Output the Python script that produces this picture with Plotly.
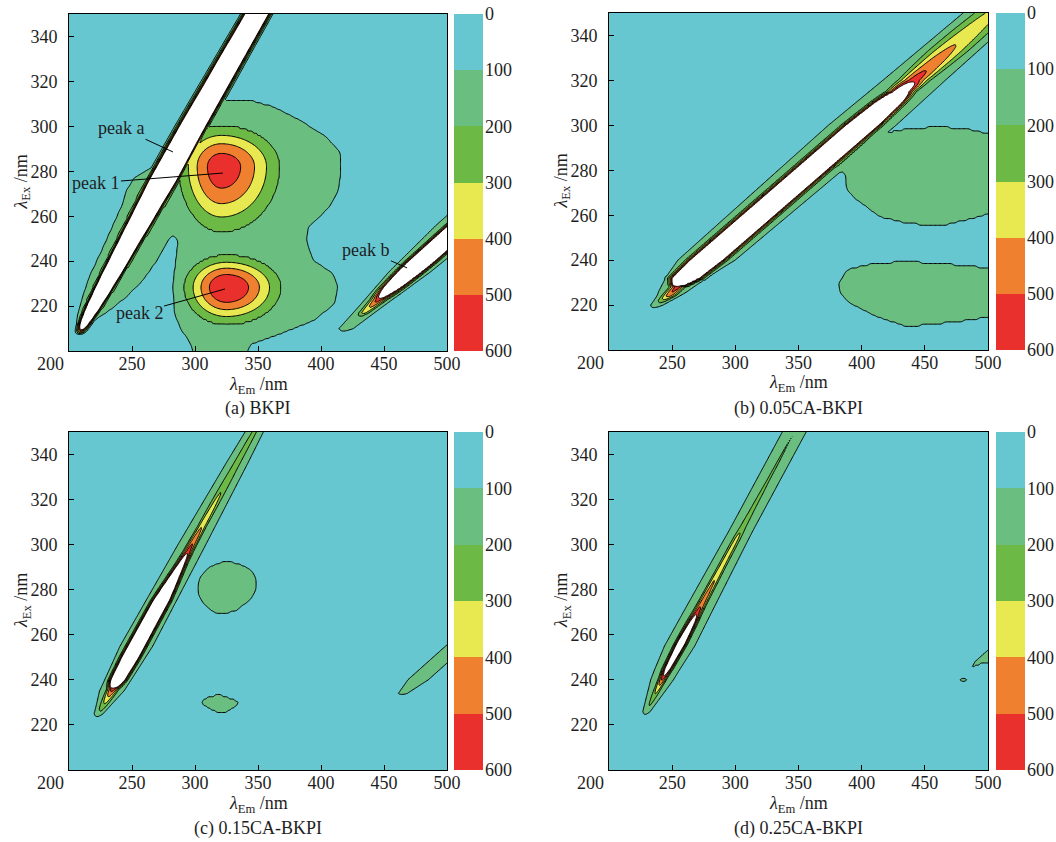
import numpy as np
import plotly.graph_objects as go

# ------------------------------------------------------------------ text / ticks
EM_TICKS = [250, 300, 350, 400, 450, 500]
EX_TICKS = [220, 240, 260, 280, 300, 320, 340]
CORNER_LABEL = "200"
CBAR_TICKS = [0, 100, 200, 300, 400, 500, 600]
BAND_COLORS = ["#67c7d1", "#6abe80", "#6cb945", "#e8e850", "#ef8030", "#e9302c"]
ABOVE_COLOR = "#ffffff"
CAPTIONS = ["(a) BKPI", "(b) 0.05CA-BKPI", "(c) 0.15CA-BKPI", "(d) 0.25CA-BKPI"]

PEAK_LABELS = ["peak a", "peak 1", "peak 2", "peak b"]
PEAK_LABEL_EM = [241.3, 221.4, 255.6, 435.7]
PEAK_LABEL_EX = [299.3, 274.8, 216.9, 245.0]
PEAK_POINT_EM = [282.5, 322.2, 323.8, 468.3]
PEAK_POINT_EX = [288.6, 279.2, 227.6, 237.0]

# ------------------------------------------------------------------ (a) BKPI
A_SC1_CL_EX = [206, 213, 250, 276, 300, 350]
A_SC1_CL_EM = [207, 213, 249, 274.5, 298, 349]
A_SC1_EX = [207, 213, 220, 232, 276, 350]
A_SC1_AMP = [0, 1500, 3000, 5000, 5000, 5000]
A_SC1_SIG = [2.5, 2.8, 3.2, 3.6, 5.3, 4.6]

A_SC2_CL_EX = [205, 350]
A_SC2_CL_EM = [410, 700]
A_SC2_EX = [213, 217, 220, 223, 226, 232, 240, 350]
A_SC2_AMP = [0, 330, 430, 560, 900, 2000, 4000, 4000]
A_SC2_SIG = [3, 4, 4.5, 5, 5.5, 5.5, 5.5, 6.5]
A_SC2_SKIRT_EX = [206, 210, 220, 235, 256, 350]
A_SC2_SKIRT_AMP = [0, 140, 160, 170, 170, 170]
A_SC2_SKIRT_SIG = [3, 7, 10, 16, 20, 20]

A_PEAK_EM = [321, 325]
A_PEAK_EX = [282, 228.3]
A_PEAK_AMP = [560, 600]
A_PEAK_SIG_L = [23.5, 22.5]
A_PEAK_SIG_R = [32, 29]
A_PEAK_SIG_D = [20, 11]
A_PEAK_SIG_U = [12.5, 9.5]

A_BG_EM = [311, 325, 345, 362, 383, 404, 416, 416, 414, 408, 398, 390, 388.3, 393.6, 409.4,
           413.4, 411, 395, 365, 345, 338, 300, 296, 289, 283.5, 283, 285.3, 286.6, 283,
           278.7, 272, 259, 245.7, 233, 224.6, 216, 230, 250, 275, 298]
A_BG_EX = [311, 311.5, 311.4, 308.7, 302.8, 295.4, 288, 280, 272, 265, 259, 255, 249.4, 240.5,
           234.6, 228.6, 221.2, 213.8, 207, 203, 197, 197, 204, 209.4, 216.8, 231.6, 243.5,
           249.4, 251.5, 249.4, 242, 231.6, 224.2, 218.5, 215.3, 212, 230, 251, 276, 299]
A_FRINGE_EM = [282, 264, 252, 246, 243, 235, 227, 215, 207, 205, 214, 245, 266, 282]
A_FRINGE_EX = [283, 281, 277, 272, 266, 256, 246, 231.6, 216.8, 211, 212, 245, 267, 282]

# ------------------------------------------------------------------ (b) 0.05CA-BKPI
B_SC_CL_EX = [216, 224.5, 232.6, 350]
B_SC_CL_EM = [229, 248, 262, 503]
B_SC_EX = [217, 221, 224.5, 228, 232, 240, 300, 310, 315, 320, 326, 333, 342, 350]
B_SC_AMP = [0, 200, 470, 560, 2500, 3000, 3000, 2000, 900, 560, 480, 420, 360, 320]
B_SC_SIG = [3, 4, 4.5, 4.5, 6.5, 7.3, 7.3, 7, 7, 9, 11, 13, 14, 14]
B_SC_SKIRT_EX = [216, 220, 226, 240, 300, 320, 350]
B_SC_SKIRT_AMP = [0, 140, 170, 170, 170, 170, 170]
B_SC_SKIRT_SIG = [4, 6, 11, 22, 26, 24, 22]

B_BLOB1_EM = [360, 382.9, 386.9, 388.2, 396.1, 414.6, 435.7, 462, 488.4, 502, 502, 488.4,
              462, 435.7, 412, 388]
B_BLOB1_EX = [280, 279.7, 278.7, 271.2, 266.8, 259.3, 256.4, 255.2, 258.6, 261, 296, 297.9,
              299.4, 298.4, 295.3, 294]
B_BLOB2_EM = [381.6, 388, 409.3, 435.7, 462, 502, 502, 475.3, 435.7, 412, 390.8, 382.9]
B_BLOB2_EX = [229.7, 235.6, 238.6, 239.3, 238.6, 236.4, 214.8, 212.6, 210.4, 214.8, 220.8, 225.3]

# ------------------------------------------------------------------ (c) 0.15CA-BKPI
C_SC_CL_EX = [222, 236.6, 300, 350]
C_SC_CL_EM = [220.5, 235.5, 297.5, 347]
C_SC_EX = [222, 226, 232, 236, 240, 250, 275, 285, 292, 297, 302, 308, 318, 333, 350]
C_SC_AMP = [0, 200, 380, 560, 1800, 2500, 2200, 1200, 800, 560, 480, 400, 330, 250, 220]
C_SC_SIG = [2, 3, 3.5, 3.5, 3.8, 4, 4, 3.5, 3, 3, 3, 3, 3.5, 4, 4]
C_SC_SKIRT_EX = [221, 225, 235, 255, 300, 336, 350]
C_SC_SKIRT_AMP = [0, 150, 160, 160, 160, 160, 160]
C_SC_SKIRT_SIG = [2, 4, 10, 13.4, 11.4, 8.9, 7.5]

C_SC2_CL_EX = [230, 350]
C_SC2_CL_EM = [457, 697]
C_SC2_EX = [231, 234, 240, 350]
C_SC2_AMP = [0, 120, 150, 150]
C_SC2_SIG = [3, 6, 9, 9]

C_BLOB1_EM = [303.8, 311.7, 322.3, 332.9, 343.4, 348.7, 348.2, 343.4, 332.9, 322.3, 314.3,
              306.4, 302.5, 302.5]
C_BLOB1_EX = [285.7, 290.1, 292.4, 291.9, 289.4, 285, 279.8, 275.3, 270.9, 269.1, 270.1,
              273.9, 277.6, 282.8]
C_BLOB2_EM = [303.8, 311.8, 319.7, 327.6, 335.5, 327.6, 319.7, 311.7]
C_BLOB2_EX = [230.1, 232.6, 233.4, 231.8, 230.1, 226.4, 225, 227.2]

# ------------------------------------------------------------------ (d) 0.25CA-BKPI
D_SC_CL_EX = [224, 244, 270, 300, 350]
D_SC_CL_EM = [228, 245.5, 270, 298.5, 346.6]
D_SC_EX = [223, 226, 232, 237, 241, 245, 256, 266, 270, 274, 280, 290, 303, 308, 315, 328, 350]
D_SC_AMP = [0, 160, 260, 380, 560, 800, 1100, 750, 560, 480, 430, 370, 330, 270, 240, 215, 200]
D_SC_SIG = [1.5, 2, 2.5, 2.5, 2.5, 2.8, 3, 3, 3, 3, 3, 3, 3, 3, 3, 3, 3]
D_SC_SKIRT_EX = [222, 226, 240, 255, 306, 350]
D_SC_SKIRT_AMP = [0, 150, 150, 150, 150, 150]
D_SC_SKIRT_SIG = [2, 3.3, 10, 13.3, 10.5, 10.5]

D_SPUR_EM = [484.5, 490, 495, 502, 502, 496, 490, 486]
D_SPUR_EX = [244.5, 246, 247.5, 247, 254, 251, 248.3, 245.5]
D_DOT_EM = [480.5]
D_DOT_EX = [240]
D_DOT_AMP = [125]

# ------------------------------------------------------------------ field helpers
EM = np.arange(200.0, 500.5, 1.0)
EX = np.arange(200.0, 350.5, 1.0)
GX, GY = np.meshgrid(EM, EX)


def ridge(cl_ex, cl_em, p_ex, p_amp, p_sig):
    c = np.interp(GY, cl_ex, cl_em)
    a = np.interp(GY, p_ex, p_amp, left=0.0)
    s = np.interp(GY, p_ex, p_sig)
    return a * np.exp(-0.5 * ((GX - c) / s) ** 2)


def peak(em0, ex0, amp, sl, sr, sd, su):
    sx = np.where(GX < em0, sl, sr)
    sy = np.where(GY < ex0, sd, su)
    return amp * np.exp(-0.5 * (((GX - em0) / sx) ** 2 + ((GY - ex0) / sy) ** 2))


def blur(a, s):
    r = int(3 * s) + 1
    k = np.exp(-0.5 * (np.arange(-r, r + 1) / s) ** 2)
    k /= k.sum()
    p = np.pad(a, r, mode="edge")
    p = np.apply_along_axis(lambda v: np.convolve(v, k, mode="valid"), 1, p)
    p = np.apply_along_axis(lambda v: np.convolve(v, k, mode="valid"), 0, p)
    return p


def region(pe, pxs, value=199.0, s=1.2):
    pe = np.asarray(pe, float)
    py = np.asarray(pxs, float)
    n = len(pe)
    res = np.zeros(GX.shape, dtype=bool)
    j = n - 1
    for i in range(n):
        xi, yi, xj, yj = pe[i], py[i], pe[j], py[j]
        dy = (yj - yi) if yj != yi else 1e-9
        cond = (yi > GY) != (yj > GY)
        xint = (xj - xi) * (GY - yi) / dy + xi
        res ^= cond & (GX < xint)
        j = i
    return value * blur(res.astype(float), s)


def finish(parts):
    z = np.maximum.reduce(parts)
    return np.round(np.clip(z, 0, 700), 1)


Z_A = finish([
    ridge(A_SC1_CL_EX, A_SC1_CL_EM, A_SC1_EX, A_SC1_AMP, A_SC1_SIG),
    ridge(A_SC2_CL_EX, A_SC2_CL_EM, A_SC2_EX, A_SC2_AMP, A_SC2_SIG),
    ridge(A_SC2_CL_EX, A_SC2_CL_EM, A_SC2_SKIRT_EX, A_SC2_SKIRT_AMP, A_SC2_SKIRT_SIG),
    region(A_BG_EM, A_BG_EX),
    region(A_FRINGE_EM, A_FRINGE_EX),
] + [peak(A_PEAK_EM[i], A_PEAK_EX[i], A_PEAK_AMP[i], A_PEAK_SIG_L[i], A_PEAK_SIG_R[i],
          A_PEAK_SIG_D[i], A_PEAK_SIG_U[i]) for i in range(len(A_PEAK_EM))])

Z_B = finish([
    ridge(B_SC_CL_EX, B_SC_CL_EM, B_SC_EX, B_SC_AMP, B_SC_SIG),
    ridge(B_SC_CL_EX, B_SC_CL_EM, B_SC_SKIRT_EX, B_SC_SKIRT_AMP, B_SC_SKIRT_SIG),
    region(B_BLOB1_EM, B_BLOB1_EX),
    region(B_BLOB2_EM, B_BLOB2_EX),
])

Z_C = finish([
    ridge(C_SC_CL_EX, C_SC_CL_EM, C_SC_EX, C_SC_AMP, C_SC_SIG),
    ridge(C_SC_CL_EX, C_SC_CL_EM, C_SC_SKIRT_EX, C_SC_SKIRT_AMP, C_SC_SKIRT_SIG),
    ridge(C_SC2_CL_EX, C_SC2_CL_EM, C_SC2_EX, C_SC2_AMP, C_SC2_SIG),
    region(C_BLOB1_EM, C_BLOB1_EX),
    region(C_BLOB2_EM, C_BLOB2_EX, s=0.8),
])

Z_D = finish([
    ridge(D_SC_CL_EX, D_SC_CL_EM, D_SC_EX, D_SC_AMP, D_SC_SIG),
    ridge(D_SC_CL_EX, D_SC_CL_EM, D_SC_SKIRT_EX, D_SC_SKIRT_AMP, D_SC_SKIRT_SIG),
    region(D_SPUR_EM, D_SPUR_EX, s=0.8),
    peak(D_DOT_EM[0], D_DOT_EX[0], D_DOT_AMP[0], 4, 4, 1.2, 1.2),
])

FIELDS = [Z_A, Z_B, Z_C, Z_D]

# ------------------------------------------------------------------ layout geometry (page px)
FIG_W, FIG_H = 1056, 842
PAGE_OFFSET = 0  # page margin removed by the post script below
FONT = "Liberation Serif, Times New Roman, serif"
TXT = "#1e1e1e"
PANELS = [
    dict(x0=69, x1=447, y0=14, y1=351, cb0=454, cb1=483),
    dict(x0=609, x1=988, y0=13, y1=350, cb0=996, cb1=1025),
    dict(x0=69, x1=447, y0=432, y1=770, cb0=454, cb1=483),
    dict(x0=609, x1=988, y0=432, y1=770, cb0=996, cb1=1025),
]


def fx(px):
    return (px - PAGE_OFFSET) / FIG_W


def fy(py):
    return 1 - (py - PAGE_OFFSET) / FIG_H


contour_cs = [[i / 6, c] for i, c in enumerate(BAND_COLORS + [ABOVE_COLOR])]
bar_cs = [[i / 5, c] for i, c in enumerate(BAND_COLORS)]

fig = go.Figure()
layout = dict(
    width=FIG_W, height=FIG_H, margin=dict(l=0, r=0, t=0, b=0, autoexpand=False),
    paper_bgcolor="white", plot_bgcolor="white", showlegend=False,
    font=dict(family=FONT, size=18, color=TXT),
)
annotations = []

for k, (p, z) in enumerate(zip(PANELS, FIELDS)):
    n = k + 1
    m = k + 5
    fig.add_trace(go.Contour(
        x=EM.tolist(), y=EX.tolist(), z=z.tolist(),
        xaxis="x%d" % n, yaxis="y%d" % n,
        autocontour=False,
        contours=dict(start=100, end=600, size=100, coloring="fill", showlines=True),
        line=dict(color="black", width=1, smoothing=0.8),
        colorscale=contour_cs, showscale=False, hoverinfo="skip",
    ))
    fig.add_trace(go.Heatmap(
        x=[0], y=[50, 150, 250, 350, 450, 550], z=[[0], [1], [2], [3], [4], [5]],
        zmin=0, zmax=5, colorscale=bar_cs, showscale=False, hoverinfo="skip",
        xaxis="x%d" % m, yaxis="y%d" % m,
    ))
    layout["xaxis%d" % n] = dict(
        domain=[fx(p["x0"]), fx(p["x1"])], anchor="y%d" % n, range=[200, 500],
        automargin=False,
        tickmode="array", tickvals=EM_TICKS, ticktext=[str(v) for v in EM_TICKS],
        ticks="inside", ticklen=5, tickcolor="black", tickwidth=1,
        showline=True, linecolor="black", linewidth=1, mirror=True,
        showgrid=False, zeroline=False, ticklabelstandoff=-4,
        tickfont=dict(family=FONT, size=18, color=TXT),
    )
    layout["yaxis%d" % n] = dict(
        domain=[fy(p["y1"]), fy(p["y0"])], anchor="x%d" % n, range=[200, 350],
        automargin=False,
        tickmode="array", tickvals=EX_TICKS, ticktext=[str(v) for v in EX_TICKS],
        ticks="inside", ticklen=5, tickcolor="black", tickwidth=1,
        showline=True, linecolor="black", linewidth=1, mirror=True,
        showgrid=False, zeroline=False, ticklabelstandoff=7,
        tickfont=dict(family=FONT, size=18, color=TXT),
    )
    layout["xaxis%d" % m] = dict(
        domain=[fx(p["cb0"]), fx(p["cb1"])], anchor="y%d" % m, range=[-0.5, 0.5],
        visible=False, fixedrange=True, automargin=False,
    )
    layout["yaxis%d" % m] = dict(
        domain=[fy(p["y1"]), fy(p["y0"])], anchor="x%d" % m, range=[600, 0],
        automargin=False, ticklabeloverflow="allow",
        side="right", tickmode="array", tickvals=CBAR_TICKS,
        ticktext=[str(v) for v in CBAR_TICKS], ticks="", showline=False,
        showgrid=False, zeroline=False, ticklabelstandoff=1,
        tickfont=dict(family=FONT, size=18, color=TXT),
    )
    cx = (p["x0"] + p["x1"]) / 2
    # lone corner label at the lower-left of each panel
    annotations.append(dict(text=CORNER_LABEL, x=fx(p["x0"] - 19), y=fy(p["y1"] + 13),
                            xref="paper", yref="paper", showarrow=False,
                            xanchor="center", yanchor="middle",
                            font=dict(family=FONT, size=18, color=TXT)))
    annotations.append(dict(
        text="<i>λ</i><sub>Em</sub> /nm",
        x=fx(cx), y=fy(p["y1"] + 34), xref="paper", yref="paper", showarrow=False,
        xanchor="center", yanchor="middle", font=dict(family=FONT, size=18, color=TXT)))
    annotations.append(dict(
        text=CAPTIONS[k], x=fx(cx), y=fy(p["y1"] + 58), xref="paper", yref="paper",
        showarrow=False, xanchor="center", yanchor="middle",
        font=dict(family=FONT, size=18, color=TXT)))
    annotations.append(dict(
        text="<i>λ</i><sub>Ex</sub> /nm",
        x=fx(p["x0"] - 47), y=fy((p["y0"] + p["y1"]) / 2), xref="paper", yref="paper",
        showarrow=False, textangle=-90, xanchor="center", yanchor="middle",
        font=dict(family=FONT, size=18, color=TXT)))

for i, lab in enumerate(PEAK_LABELS):
    annotations.append(dict(
        text=lab, x=PEAK_POINT_EM[i], y=PEAK_POINT_EX[i], xref="x1", yref="y1",
        ax=PEAK_LABEL_EM[i], ay=PEAK_LABEL_EX[i], axref="x1", ayref="y1",
        showarrow=True, arrowhead=0, arrowwidth=1, arrowcolor="black",
        standoff=0, startstandoff=0,
        font=dict(family=FONT, size=18, color=TXT)))

layout["annotations"] = annotations
fig.update_layout(**layout)
fig.write_html(
    "out.html",
    config={"displayModeBar": False, "staticPlot": True},
    post_script="document.body.style.margin='0';document.body.style.overflow='hidden';",
)
